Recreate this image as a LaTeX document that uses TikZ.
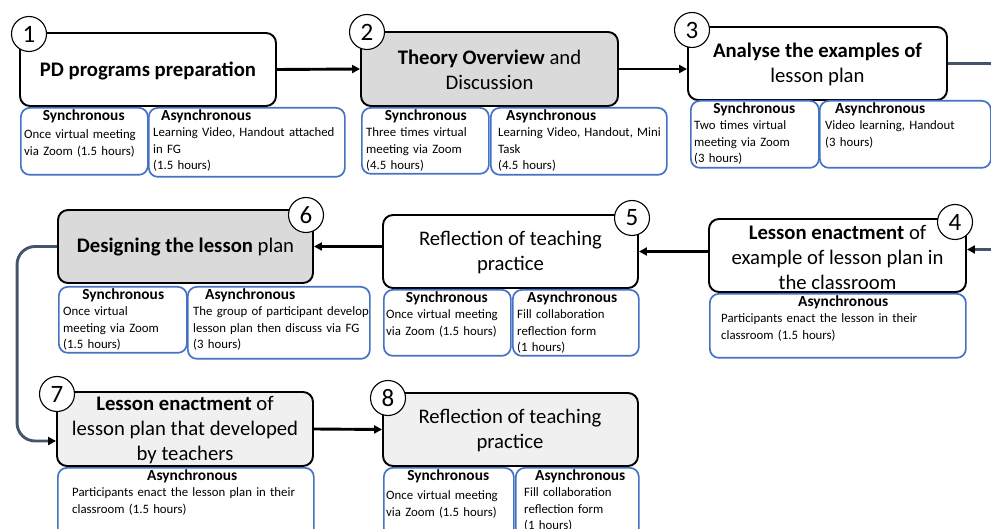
\documentclass[tikz,border=0pt]{standalone}
\usepackage{fontspec}
\setmainfont{Carlito}
\usepackage{xcolor}
\definecolor{subblue}{RGB}{68,114,196}
\definecolor{loopgray}{RGB}{68,84,106}
\definecolor{stepgray}{RGB}{218,218,218}
\definecolor{steplight}{RGB}{240,240,240}
\usetikzlibrary{arrows.meta,positioning}

\newcommand{\headfont}{\fontsize{15.4}{17}\selectfont\bfseries}

\tikzset{
  stepbox/.style={draw=black, line width=1.9pt, rounded corners=10pt, fill=white, inner sep=0pt},
  stepnum/.style={circle, draw=black, line width=1.1pt, fill=white, minimum size=35pt,
                  inner sep=0pt, font=\fontsize{25}{28}\selectfont},
  steptext/.style={align=center, inner sep=0pt, font=\fontsize{20.7}{25}\selectfont},
  subbox/.style={draw=subblue, line width=1.7pt, rounded corners=9pt, fill=white,
                 anchor=north west, inner sep=0pt},
  subtext/.style={anchor=north west, align=left, inner sep=0pt,
                  font=\fontsize{12.8}{16.5}\selectfont},
  flow/.style={line width=2.9pt, -{Triangle[length=8pt,width=8pt]}},
  loopflow/.style={flow, draw=loopgray, rounded corners=18pt,
                   -{Triangle[length=8pt,width=8pt,color=black]}}
}

\begin{document}
\begin{tikzpicture}[x=1pt, y=-1pt]

\useasboundingbox (0,0) rectangle (991,529);
\clip (0,0) rectangle (991,529);

% === Step 1 ===
\node[stepbox, minimum width=256pt, minimum height=73pt] (s1) at (148,69.5) {};
\node[steptext] (t1) at (148,71) {\textbf{PD programs preparation}};
\node[stepnum] (n1) at (29,34) {1};
\node[subbox, minimum width=127pt, minimum height=67pt] (sy1) at (20,107) {};
\node[subtext, text width=119pt] (sy1t) at ([shift={(4,2)}]sy1.north west)
     {\hfill{\headfont Synchronous}\hfill\null\\[2pt]Once virtual meeting\\via Zoom (1.5 hours)};
\node[subbox, minimum width=196pt, minimum height=69pt] (as1) at (148,107) {};
\node[subtext, text width=188pt] (as1t) at ([shift={(5,2)}]as1.north west)
     {\hspace*{8pt}{\headfont Asynchronous}\\Learning Video, Handout attached\\in FG\\(1.5 hours)};

% === Step 2 ===
\node[stepbox, fill=stepgray, minimum width=257pt, minimum height=74pt] (s2) at (489.5,69) {};
\node[steptext] (t2) at (489.5,70) {\textbf{Theory Overview} and\\Discussion};
\node[stepnum] (n2) at (367,32) {2};
\node[subbox, minimum width=127pt, minimum height=66pt] (sy2) at (361,107) {};
\node[subtext, text width=119pt] (sy2t) at ([shift={(5,2)}]sy2.north west)
     {\hfill{\headfont Synchronous}\hfill\null\\Three times virtual\\meeting via Zoom\\(4.5 hours)};
\node[subbox, minimum width=176pt, minimum height=67pt] (as2) at (490,107) {};
\node[subtext, text width=168pt] (as2t) at ([shift={(8,2)}]as2.north west)
     {\hspace*{8pt}{\headfont Asynchronous}\\Learning Video, Handout, Mini\\Task\\(4.5 hours)};

% === Step 3 ===
\node[stepbox, minimum width=259pt, minimum height=73pt] (s3) at (817.5,63.5) {};
\node[steptext] (t3) at (817.5,64.5) {\textbf{Analyse the examples of}\\lesson plan};
\node[stepnum] (n3) at (692,30) {3};
\node[subbox, minimum width=128pt, minimum height=67pt] (sy3) at (690,100) {};
\node[subtext, text width=120pt] (sy3t) at ([shift={(4,2)}]sy3.north west)
     {\hfill{\headfont Synchronous}\hfill\null\\Two times virtual\\meeting via Zoom\\(3 hours)};
\node[subbox, minimum width=171pt, minimum height=67pt] (as3) at (819,100) {};
\node[subtext, text width=160pt] (as3t) at ([shift={(6,2)}]as3.north west)
     {\hspace*{10pt}{\headfont Asynchronous}\\Video learning, Handout\\(3 hours)};

% === Step 4 ===
\node[stepbox, minimum width=257pt, minimum height=73pt] (s4) at (837.5,255.5) {};
\node[steptext] (t4) at (837.5,257) {\textbf{Lesson enactment} of\\example of lesson plan in\\the classroom};
\node[stepnum] (n4) at (955,222) {4};
\node[subbox, minimum width=256pt, minimum height=64pt] (as4) at (709,293) {};
\node[subtext, text width=244pt] (as4t) at ([shift={(12,2)}]as4.north west)
     {\hfill{\headfont Asynchronous}\hfill\null\\Participants enact the lesson in their\\classroom (1.5 hours)};

% === Step 5 ===
\node[stepbox, minimum width=255pt, minimum height=73pt] (s5) at (510.5,251.5) {};
\node[steptext] (t5) at (510.5,252) {Reflection of teaching\\practice};
\node[stepnum] (n5) at (632,218) {5};
\node[subbox, minimum width=127pt, minimum height=66pt] (sy5) at (383,289) {};
\node[subtext, text width=121pt] (sy5t) at ([shift={(3,2)}]sy5.north west)
     {\hfill{\headfont Synchronous}\hfill\null\\Once virtual meeting\\via Zoom (1.5 hours)};
\node[subbox, minimum width=126pt, minimum height=66pt] (as5) at (512,289) {};
\node[subtext, text width=120pt] (as5t) at ([shift={(5,2)}]as5.north west)
     {\hspace*{10pt}{\headfont Asynchronous}\\Fill collaboration\\reflection form\\(1 hours)};

% === Step 6 ===
\node[stepbox, fill=stepgray, minimum width=255pt, minimum height=73pt] (s6) at (185.5,246.5) {};
\node[steptext] (t6) at (185.5,247) {\textbf{Designing the lesson} plan};
\node[stepnum] (n6) at (306,215) {6};
\node[subbox, minimum width=128pt, minimum height=66pt] (sy6) at (58,286) {};
\node[subtext, text width=120pt] (sy6t) at ([shift={(5,2)}]sy6.north west)
     {\hfill{\headfont Synchronous}\hfill\null\\Once virtual\\meeting via Zoom\\(1.5 hours)};
\node[subbox, minimum width=182pt, minimum height=72pt] (as6) at (187,286) {};
\node[subtext, text width=176pt] (as6t) at ([shift={(6,2)}]as6.north west)
     {\hspace*{12pt}{\headfont Asynchronous}\\The group of participant develop\\lesson plan then discuss via FG\\(3 hours)};

% === Step 7 ===
\node[stepbox, fill=steplight, minimum width=256pt, minimum height=74pt] (s7) at (185,429) {};
\node[steptext] (t7) at (185,430) {\textbf{Lesson enactment} of\\lesson plan that developed\\by teachers};
\node[stepnum] (n7) at (57,394) {7};
\node[subbox, minimum width=256pt, minimum height=70pt] (as7) at (57,467) {};
\node[subtext, text width=240pt] (as7t) at ([shift={(15,2)}]as7.north west)
     {\hfill{\headfont Asynchronous}\hfill\null\\Participants enact the lesson plan in their\\classroom (1.5 hours)};

% === Step 8 ===
\node[stepbox, fill=steplight, minimum width=255pt, minimum height=73pt] (s8) at (510.5,429.5) {};
\node[steptext] (t8) at (510,430) {Reflection of teaching\\practice};
\node[stepnum] (n8) at (388,398) {8};
\node[subbox, minimum width=130pt, minimum height=70pt] (sy8) at (383,467) {};
\node[subtext, text width=124pt] (sy8t) at ([shift={(3,2)}]sy8.north west)
     {\hfill{\headfont Synchronous}\hfill\null\\[3pt]Once virtual meeting\\via Zoom (1.5 hours)};
\node[subbox, minimum width=123pt, minimum height=70pt] (as8) at (515,467) {};
\node[subtext, text width=112pt] (as8t) at ([shift={(9,2)}]as8.north west)
     {\hfill{\headfont Asynchronous}\hfill\null\\Fill collaboration\\reflection form\\(1 hours)};

% === Connectors ===
\draw[flow] (s1.east) -- (s2.west);
\draw[flow] (s2.east) -- (s2.east -| s3.west);
\draw[loopflow] (s3.east) -- ++(60,0) |- ([yshift=6pt]s4.east);
\draw[flow] (s4.west |- s5.east) -- (s5.east);
\draw[flow] (s5.west |- s6.east) -- (s6.east);
\draw[loopflow] (s6.west) -- ++(-40,0) |- ([yshift=-12pt]s7.west);
\draw[flow] (s7.east) -- (s8.west);

\end{tikzpicture}
\end{document}
